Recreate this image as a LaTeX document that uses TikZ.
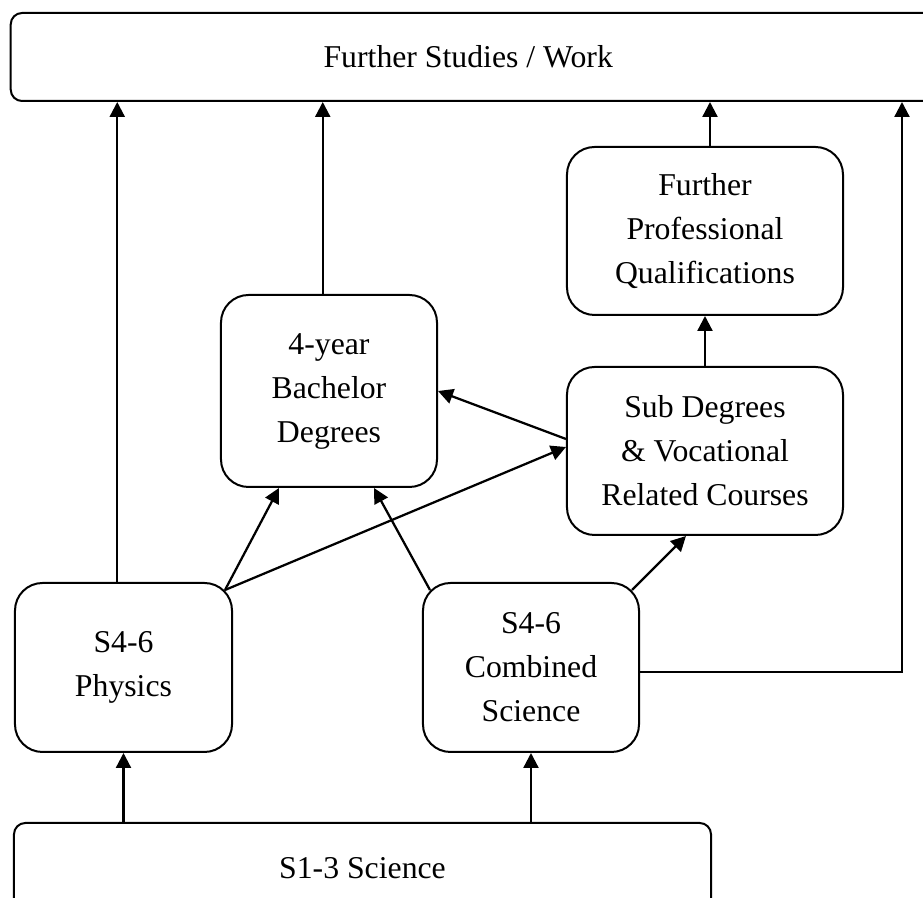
\documentclass[tikz,border=0pt]{standalone}
\usepackage{fontspec}
\setmainfont{Liberation Serif}
\usetikzlibrary{arrows.meta}

\begin{document}
\begin{tikzpicture}[
    x=0.4pt, y=-0.4pt, % one unit = one pixel of the layout
    box/.style={
        draw,
        line width=0.8pt,
        rectangle,
        rounded corners=11pt,
        align=center,
        inner sep=0pt,
        font=\fontsize{12.7}{17.6}\selectfont
    },
    wide/.style={
        box,
        rounded corners=4.5pt
    },
    arrow/.style={
        -{Triangle[length=6pt,width=6pt]},
        line width=0.9pt
    }
]
    \useasboundingbox (0,0) rectangle (923,898);

    % --- Nodes placed at the centres of the layout boxes ---
    \node[wide, minimum width=373pt, minimum height=35.2pt] (work) at (477,57) {Further Studies / Work\hspace*{7pt}};
    \node[box, minimum width=110.4pt, minimum height=67.2pt] (fpq) at (705,231) {Further\\Professional\\Qualifications};
    \node[box, minimum width=86.4pt, minimum height=76.8pt] (bach) at (329,391) {4-year\\Bachelor\\Degrees};
    \node[box, minimum width=110.4pt, minimum height=67.2pt] (sub) at (705,451) {Sub Degrees\\\& Vocational\\Related Courses};
    \node[box, minimum width=86.8pt, minimum height=67.6pt] (phys) at (123.5,667.5) {S4-6\\Physics};
    \node[box, minimum width=86.4pt, minimum height=67.6pt] (comb) at (531,667.5) {S4-6\\Combined\\Science};
    \node[wide, minimum width=278.8pt, minimum height=36pt] (junior) at (362.5,868) {S1-3 Science};
    \coordinate (corner) at (902,672);

    % --- Arrows from S1-3 up to the senior subjects ---
    \draw[arrow] (junior.north -| phys.south) -- (phys.south);
    \draw[arrow] (junior.north -| comb.south) -- (comb.south);

    % --- Arrows into further studies ---
    \draw[arrow] ([xshift=-2.5pt]phys.north) -- ([xshift=-2.5pt]phys.north |- work.south);
    \draw[arrow] ([xshift=-2.5pt]bach.north) -- ([xshift=-2.5pt]bach.north |- work.south);
    \draw[arrow] ([xshift=2pt]fpq.north) -- ([xshift=2pt]fpq.north |- work.south);
    \draw[arrow] (comb.east |- corner) -- (corner) -- (corner |- work.south);
    \draw[arrow] (sub.north) -- (fpq.south);

    % --- Cross links between the middle boxes ---
    \draw[arrow] ([shift={(-8,8)}]phys.north east) -- ([xshift=-20pt]bach.south);
    \draw[arrow] ([shift={(-8,8)}]phys.north east) -- ([yshift=1.6pt]sub.west);
    \draw[arrow] ([yshift=4.8pt]sub.west) -- (bach.east);
    \draw[arrow] ([shift={(8,8)}]comb.north west) -- ([xshift=18pt]bach.south);
    \draw[arrow] ([shift={(-8,8)}]comb.north east) -- ([xshift=-7.6pt]sub.south);
\end{tikzpicture}
\end{document}
